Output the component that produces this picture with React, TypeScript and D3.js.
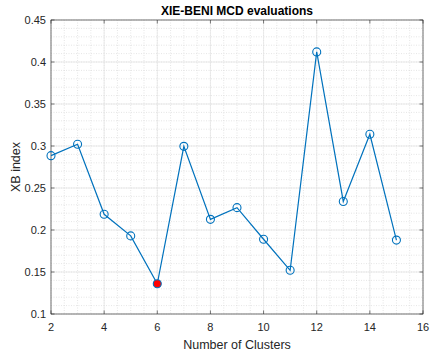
import React, { useEffect, useRef } from 'react';
import * as d3 from 'd3';

// Data
const clusters = [2, 3, 4, 5, 6, 7, 8, 9, 10, 11, 12, 13, 14, 15];
const xbIndex = [0.2885, 0.302, 0.2187, 0.193, 0.136, 0.2996, 0.2127, 0.2266, 0.189, 0.152, 0.412, 0.234, 0.314, 0.188];
const bestCluster = 6;
const xTicks = [2, 4, 6, 8, 10, 12, 14, 16];
const yTicks = [0.1, 0.15, 0.2, 0.25, 0.3, 0.35, 0.4, 0.45];

export default function App() {
  const ref = useRef<SVGSVGElement>(null);

  useEffect(() => {
    const width = 430;
    const height = 354;
    const m = { left: 51, right: 7, top: 20, bottom: 40 };
    const font = 'Liberation Sans, Arial, sans-serif';
    const svg = d3.select(ref.current);
    svg.selectAll('*').remove();

    const x = d3.scaleLinear().domain([2, 16]).range([m.left, width - m.right]);
    const y = d3.scaleLinear().domain([0.1, 0.45]).range([height - m.bottom, m.top]);
    const [x0, x1] = x.range();
    const [y1, y0] = y.range();

    svg.append('rect').attr('x', x0).attr('y', y0).attr('width', x1 - x0).attr('height', y1 - y0).attr('fill', '#fff');

    // minor grid
    const g = svg.append('g');
    d3.range(2, 16.01, 0.5).forEach(v => {
      g.append('line').attr('x1', x(v)).attr('x2', x(v)).attr('y1', y0).attr('y2', y1)
        .attr('stroke', '#d4d4d4').attr('stroke-width', 0.6).attr('stroke-dasharray', '1,1.5');
    });
    d3.range(0.1, 0.4501, 0.01).forEach(v => {
      g.append('line').attr('x1', x0).attr('x2', x1).attr('y1', y(v)).attr('y2', y(v))
        .attr('stroke', '#d4d4d4').attr('stroke-width', 0.6).attr('stroke-dasharray', '1,1.5');
    });
    // major grid
    xTicks.forEach(v => {
      g.append('line').attr('x1', x(v)).attr('x2', x(v)).attr('y1', y0).attr('y2', y1)
        .attr('stroke', '#e2e2e2').attr('stroke-width', 0.7);
    });
    yTicks.forEach(v => {
      g.append('line').attr('x1', x0).attr('x2', x1).attr('y1', y(v)).attr('y2', y(v))
        .attr('stroke', '#e2e2e2').attr('stroke-width', 0.7);
    });

    // box + ticks
    const axisColor = '#262626';
    svg.append('rect').attr('x', x0).attr('y', y0).attr('width', x1 - x0).attr('height', y1 - y0)
      .attr('fill', 'none').attr('stroke', axisColor).attr('stroke-width', 0.6);
    const tl = 3.5;
    xTicks.forEach(v => {
      svg.append('line').attr('x1', x(v)).attr('x2', x(v)).attr('y1', y1).attr('y2', y1 - tl).attr('stroke', axisColor).attr('stroke-width', 0.6);
      svg.append('line').attr('x1', x(v)).attr('x2', x(v)).attr('y1', y0).attr('y2', y0 + tl).attr('stroke', axisColor).attr('stroke-width', 0.6);
      svg.append('text').attr('x', x(v)).attr('y', y1 + 17).attr('text-anchor', 'middle')
        .attr('font-family', font).attr('font-size', 11).attr('fill', axisColor).text(String(v));
    });
    yTicks.forEach(v => {
      svg.append('line').attr('x1', x0).attr('x2', x0 + tl).attr('y1', y(v)).attr('y2', y(v)).attr('stroke', axisColor).attr('stroke-width', 0.6);
      svg.append('line').attr('x1', x1).attr('x2', x1 - tl).attr('y1', y(v)).attr('y2', y(v)).attr('stroke', axisColor).attr('stroke-width', 0.6);
      svg.append('text').attr('x', x0 - 5).attr('y', y(v) + 4).attr('text-anchor', 'end')
        .attr('font-family', font).attr('font-size', 11).attr('fill', axisColor).text(String(v));
    });

    // line
    const pts = clusters.map((c, i) => [c, xbIndex[i]] as [number, number]);
    const line = d3.line<[number, number]>().x(d => x(d[0])).y(d => y(d[1]));
    svg.append('path').attr('d', line(pts)).attr('fill', 'none').attr('stroke', '#0072BD').attr('stroke-width', 1.2);
    svg.selectAll('circle.pt').data(pts).enter().append('circle')
      .attr('cx', d => x(d[0])).attr('cy', d => y(d[1])).attr('r', 4)
      .attr('fill', d => d[0] === bestCluster ? '#ff0000' : 'none')
      .attr('stroke', '#0072BD').attr('stroke-width', 1.1);

    // labels
    svg.append('text').attr('x', (x0 + x1) / 2).attr('y', 15).attr('text-anchor', 'middle')
      .attr('font-family', font).attr('font-size', 12).attr('font-weight', 'bold')
      .attr('fill', '#000').text('XIE-BENI MCD evaluations');
    svg.append('text').attr('x', (x0 + x1) / 2).attr('y', 349).attr('text-anchor', 'middle')
      .attr('font-family', font).attr('font-size', 12.5).attr('fill', axisColor).text('Number of Clusters');
    svg.append('text').attr('transform', `translate(20, ${(y0 + y1) / 2}) rotate(-90)`).attr('text-anchor', 'middle')
      .attr('font-family', font).attr('font-size', 12.5).attr('fill', axisColor).text('XB index');
  }, []);

  return (
    <svg ref={ref} width={430} height={354} style={{ position: 'absolute', left: 0, top: 0, background: '#fff' }} />
  );
}
